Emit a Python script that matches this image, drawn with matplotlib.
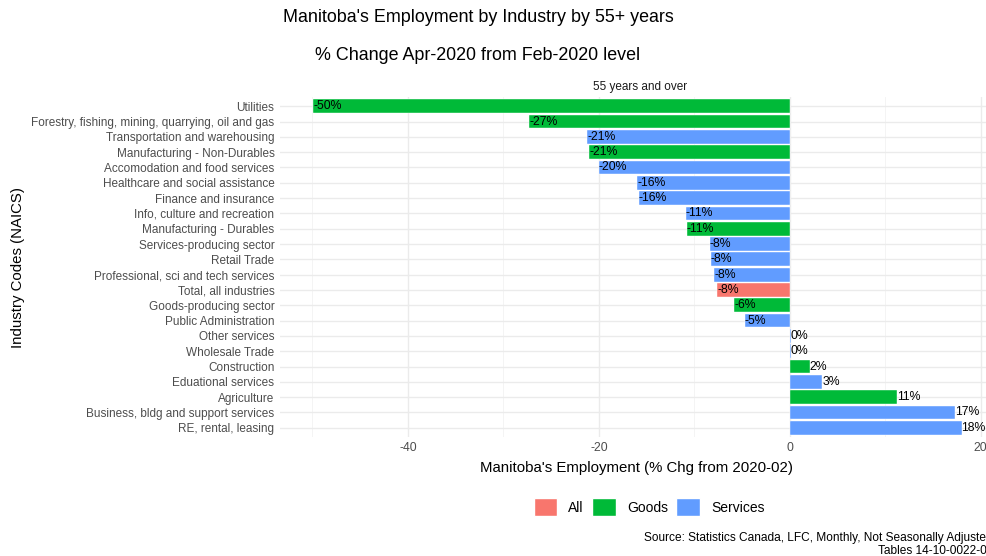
import matplotlib.pyplot as plt
from matplotlib.patches import Patch

plt.rcParams["font.family"] = ["Liberation Sans", "DejaVu Sans"]

industries = [
    "Utilities",
    "Forestry, fishing, mining, quarrying, oil and gas",
    "Transportation and warehousing",
    "Manufacturing - Non-Durables",
    "Accomodation and food services",
    "Healthcare and social assistance",
    "Finance and insurance",
    "Info, culture and recreation",
    "Manufacturing - Durables",
    "Services-producing sector",
    "Retail Trade",
    "Professional, sci and tech services",
    "Total, all industries",
    "Goods-producing sector",
    "Public Administration",
    "Other services",
    "Wholesale Trade",
    "Construction",
    "Eduational services",
    "Agriculture",
    "Business, bldg and support services",
    "RE, rental, leasing",
]
pct_change = [-49.9, -27.3, -21.2, -21.0, -20.0, -16.0, -15.8, -10.9, -10.8, -8.4,
              -8.3, -7.9, -7.6, -5.8, -4.7, 0.1, 0.1, 2.1, 3.4, 11.2, 17.3, 18.0]
sector = ["Goods", "Goods", "Services", "Goods", "Services", "Services", "Services",
          "Services", "Goods", "Services", "Services", "Services", "All", "Goods",
          "Services", "Services", "Services", "Goods", "Services", "Goods",
          "Services", "Services"]

colors = {"All": "#F8766D", "Goods": "#00BA38", "Services": "#619CFF"}
n = len(industries)
ypos = [n - 1 - i for i in range(n)]

fig = plt.figure(figsize=(9.87, 5.56), dpi=100)
ax = fig.add_axes([280 / 987, 1 - 437 / 556, (994 - 280) / 987, (437 - 97) / 556])

ax.barh(ypos, pct_change, height=0.9, color=[colors[s] for s in sector],
        edgecolor="white", linewidth=0.3, zorder=2)
for y, v in zip(ypos, pct_change):
    ax.text(v, y, f"{v:.0f}%", ha="left", va="center", fontsize=8.8, color="black", zorder=3)

ax.set_xlim(-53.4, 21.4)
ax.set_ylim(-0.6, n - 0.4)
ax.set_yticks(ypos)
ax.set_yticklabels(industries, fontsize=8.5, color="#4D4D4D")
ax.set_xticks([-40, -20, 0, 20])
ax.set_xticklabels(["-40", "-20", "0", "20"], fontsize=8.8, color="#4D4D4D")
ax.set_xticks([-50, -30, -10, 10], minor=True)
ax.tick_params(length=0, which="both")
ax.tick_params(axis="y", pad=4)
ax.grid(True, which="major", color="#EBEBEB", linewidth=1.0, zorder=0)
ax.grid(True, which="minor", axis="x", color="#F3F3F3", linewidth=0.6, zorder=0)
ax.set_axisbelow(True)
for s in ax.spines.values():
    s.set_visible(False)

ax.set_xlabel("Manitoba's Employment (% Chg from 2020-02)", fontsize=10.8, labelpad=5)
fig.text(18 / 987, 1 - 267 / 556, "Industry Codes (NAICS)", rotation=90,
         ha="center", va="center", fontsize=10.8)
fig.text(640 / 987, 1 - 87 / 556, "55 years and over", ha="center", va="center",
         fontsize=8.5, color="#1A1A1A")

fig.text(478 / 987, 1 - 18 / 556, "Manitoba's Employment by Industry by 55+ years",
         ha="center", va="center", fontsize=12.9)
fig.text(478 / 987, 1 - 56 / 556, "% Change Apr-2020 from Feb-2020 level",
         ha="center", va="center", fontsize=12.9)

handles = [Patch(facecolor=colors[k], edgecolor="white", label=k) for k in ["All", "Goods", "Services"]]
fig.legend(handles=handles, loc="center", bbox_to_anchor=(649 / 987, 1 - 507 / 556),
           ncol=3, frameon=False, fontsize=10, handlelength=1.7, handleheight=1.7,
           handletextpad=0.8, columnspacing=0.6)

fig.text(993 / 987, 1 - 538 / 556, "Source: Statistics Canada, LFC, Monthly, Not Seasonally Adjusted",
         ha="right", va="center", fontsize=8.6)
fig.text(993 / 987, 1 - 551 / 556, "Tables 14-10-0022-01",
         ha="right", va="center", fontsize=8.6)

fig.savefig("out.png", dpi=100, facecolor="white")
